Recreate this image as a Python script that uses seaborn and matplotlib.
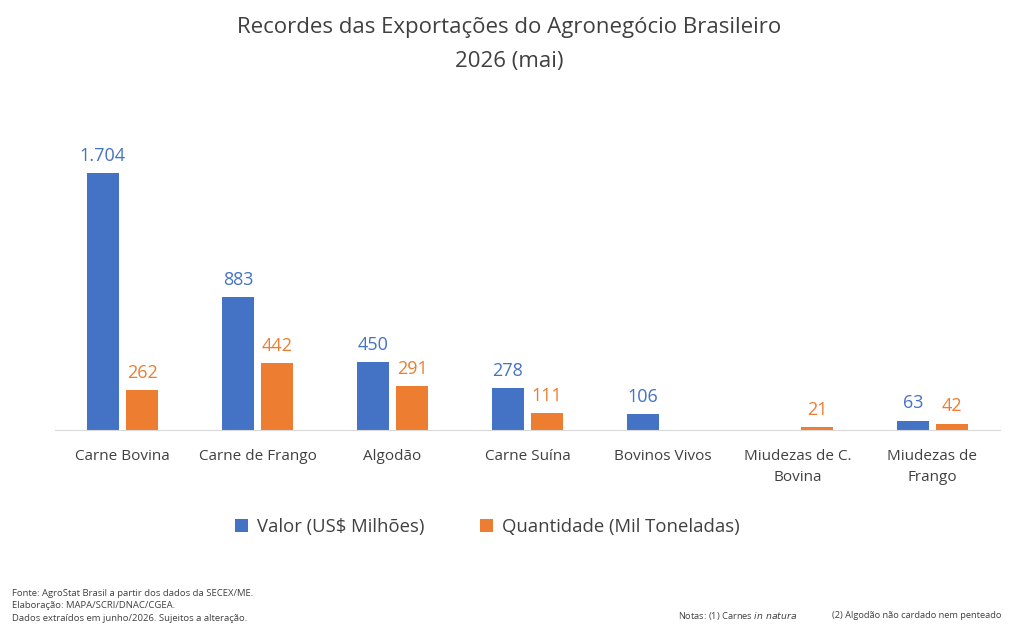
import numpy as np
import pandas as pd
import matplotlib.pyplot as plt
import seaborn as sns

produtos = ["Carne Bovina", "Carne de Frango", "Algodão", "Carne Suína",
            "Bovinos Vivos", "Miudezas de C.\nBovina", "Miudezas de\nFrango"]
valor = [1704, 883, 450, 278, 106, np.nan, 63]
quantidade = [262, 442, 291, 111, np.nan, 21, 42]
series = ["Valor (US$ Milhões)", "Quantidade (Mil Toneladas)"]
cores = ["#4472C4", "#ED7D31"]

df = pd.DataFrame({"produto": produtos * 2,
                   "serie": [series[0]] * 7 + [series[1]] * 7,
                   "valor": valor + quantidade})

sns.set_style("white")
plt.rcParams['font.family'] = ['Open Sans', 'DejaVu Sans']

fig = plt.figure(figsize=(10.19, 6.36), dpi=100)
ax = fig.add_axes([55/1019, 1-430/636, 945/1019, 310/636])

sns.barplot(data=df, x="produto", y="valor", hue="serie", palette=cores,
            saturation=1, width=0.58, gap=0.2, linewidth=0, ax=ax, legend=True)

ax.set_ylim(0, 2056)
ax.set_xlim(-0.5, 6.5)
ax.set_xlabel("")
ax.set_ylabel("")
ax.set_yticks([])
for s in ["top", "right", "left"]:
    ax.spines[s].set_visible(False)
ax.spines["bottom"].set_color("#d9d9d9")
ax.tick_params(axis="x", length=0, pad=14, labelsize=11, labelcolor="#404040")
for t in ax.get_xticklabels():
    t.set_linespacing(1.55)

for cont, cor in zip(ax.containers, cores):
    labels = ["" if np.isnan(v) else f"{v:,.0f}".replace(",", ".") for v in cont.datavalues]
    ax.bar_label(cont, labels=labels, padding=6, color=cor, fontsize=13)

handles, labs = ax.get_legend_handles_labels()
ax.legend_.remove()
fig.legend(handles, labs, loc="center", bbox_to_anchor=(487/1019, 1-527/636),
           ncol=2, frameon=False, fontsize=13.3, handlelength=0.7, handleheight=0.7,
           columnspacing=3.0, handletextpad=0.5, labelcolor="#404040")

fig.text(0.5, 1-28/636, "Recordes das Exportações do Agronegócio Brasileiro",
         ha="center", va="center", fontsize=16, color="#404040")
fig.text(0.5, 1-61/636, "2026 (mai)", ha="center", va="center",
         fontsize=16, color="#404040")

fig.text(12/1019, 1-606/636,
         "Fonte: AgroStat Brasil a partir dos dados da SECEX/ME.\n"
         "Elaboração: MAPA/SCRI/DNAC/CGEA.\n"
         "Dados extraídos em junho/2026. Sujeitos a alteração.",
         ha="left", va="center", fontsize=6.8, color="#404040", linespacing=1.45)
fig.text(678/1019, 1-616/636, "Notas: (1) Carnes $\\it{in\\ natura}$",
         ha="left", va="center", fontsize=6.7, color="#404040")
fig.text(832/1019, 1-616/636, "(2) Algodão não cardado nem penteado",
         ha="left", va="center", fontsize=6.7, color="#404040")

fig.savefig("out.png", dpi=100, facecolor="white")
